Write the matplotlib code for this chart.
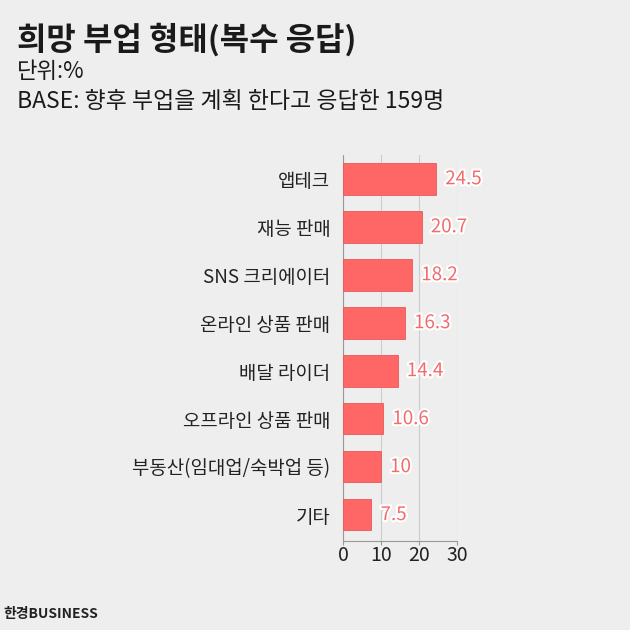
import matplotlib.pyplot as plt
import matplotlib.patheffects as pe

plt.rcParams['font.family'] = ['Noto Sans CJK KR', 'DejaVu Sans']

categories = ["앱테크", "재능 판매", "SNS 크리에이터", "온라인 상품 판매",
              "배달 라이더", "오프라인 상품 판매", "부동산(임대업/숙박업 등)", "기타"]
values = [24.5, 20.7, 18.2, 16.3, 14.4, 10.6, 10, 7.5]
value_labels = ["24.5", "20.7", "18.2", "16.3", "14.4", "10.6", "10", "7.5"]
xticks = [0, 10, 20, 30]

bg = "#eeeeee"
bar_color = "#ff6666"
label_color = "#f26b6b"

fig = plt.figure(figsize=(6.3, 6.3), dpi=100, facecolor=bg)
ax = fig.add_axes([0.5444, 0.1413, 0.181, 0.613], facecolor=bg)

y = list(range(len(categories)))
ax.barh(y, values, height=0.66, color=bar_color, edgecolor="#e85a5a", linewidth=0.6, zorder=3)

# value labels with white halo
for yi, v, t in zip(y, values, value_labels):
    ax.text(v + 2.4, yi, t, va="center", ha="left", fontsize=13.5, color=label_color,
            path_effects=[pe.withStroke(linewidth=3, foreground="white")], zorder=4)

ax.set_ylim(len(categories) - 0.45, -0.5)
ax.set_xlim(0, 30)
ax.set_xticks(xticks)
ax.set_yticks(y)
ax.set_yticklabels(categories, fontsize=13.6, color="#222222")
ax.tick_params(axis="y", length=0, pad=9)
ax.tick_params(axis="x", labelsize=14, colors="#222222", length=3, pad=0, color="#999999")
ax.grid(axis="x", color="#cccccc", linewidth=0.8, zorder=0)
for s in ["top", "right"]:
    ax.spines[s].set_visible(False)
ax.spines["left"].set_color("#999999")
ax.spines["bottom"].set_color("#999999")

fig.text(0.027, 0.937, "희망 부업 형태(복수 응답)", fontsize=23, fontweight="bold",
         color="#1a1a1a", va="center")
fig.text(0.027, 0.887, "단위:%", fontsize=16, color="#1a1a1a", va="center")
fig.text(0.027, 0.839, "BASE: 향후 부업을 계획 한다고 응답한 159명", fontsize=16.5,
         color="#1a1a1a", va="center")
fig.text(0.005, 0.025, "한경BUSINESS", fontsize=10, fontweight="bold", color="#222222",
         va="center")

fig.savefig("out.png", dpi=100, facecolor=bg)
